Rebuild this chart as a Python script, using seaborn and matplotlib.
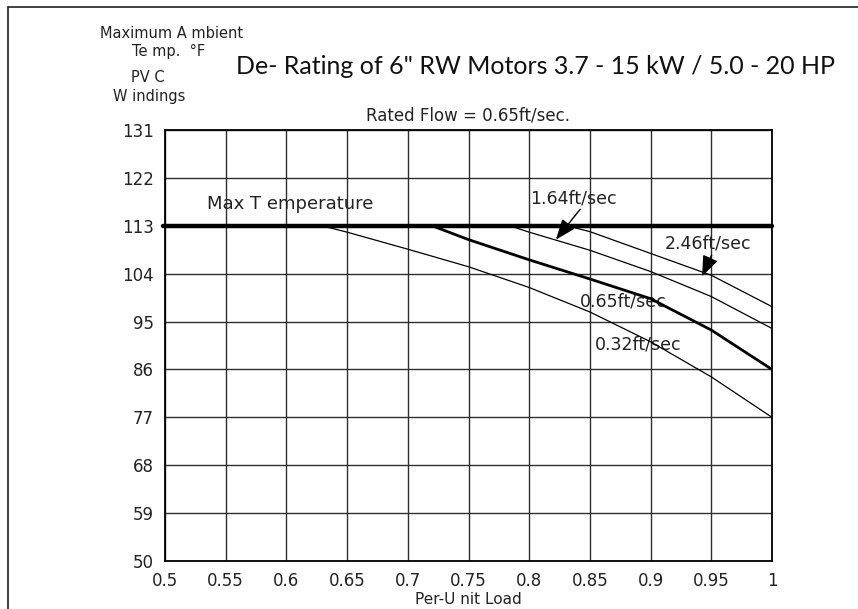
import matplotlib
matplotlib.use("Agg")
import matplotlib.pyplot as plt
import seaborn as sns
import pandas as pd
from matplotlib.lines import Line2D

# ---------------- data ----------------
x_ticks = [0.5, 0.55, 0.6, 0.65, 0.7, 0.75, 0.8, 0.85, 0.9, 0.95, 1.0]
x_tick_labels = ["0.5", "0.55", "0.6", "0.65", "0.7", "0.75", "0.8", "0.85", "0.9", "0.95", "1"]
y_ticks = [50, 59, 68, 77, 86, 95, 104, 113, 122, 131]
y_tick_labels = ["50", "59", "68", "77", "86", "95", "104", "113", "122", "131"]
max_temp = 113

load_032 = [0.629, 0.65, 0.70, 0.75, 0.80, 0.85, 0.90, 0.95, 1.00]
temp_032 = [113, 111.8, 108.6, 105.3, 101.4, 96.8, 91.2, 84.6, 77]
load_065 = [0.72, 0.75, 0.80, 0.85, 0.90, 0.95, 1.00]
temp_065 = [113, 110.4, 106.6, 103.0, 99.3, 93.4, 86]
load_164 = [0.784, 0.80, 0.85, 0.90, 0.95, 1.00]
temp_164 = [113, 111.8, 108.4, 104.4, 99.7, 93.7]
load_246 = [0.831, 0.85, 0.90, 0.95, 1.00]
temp_246 = [113, 111.9, 107.8, 103.7, 97.8]

series_names = ["0.32ft/sec", "0.65ft/sec", "1.64ft/sec", "2.46ft/sec"]

frames = []
for name, xs, ys in zip(series_names,
                        [load_032, load_065, load_164, load_246],
                        [temp_032, temp_065, temp_164, temp_246]):
    frames.append(pd.DataFrame({"load": xs, "temp": ys, "flow": name}))
df = pd.concat(frames, ignore_index=True)

# ---------------- style ----------------
sns.set_theme(style="white")
plt.rcParams["font.family"] = ["DejaVu Sans"]

fig = plt.figure(figsize=(8.58, 6.09), dpi=100)
ax = fig.add_axes([165 / 858, 1 - 561 / 609, (772 - 165) / 858, (561 - 130) / 609])

widths = {"0.32ft/sec": 0.9, "0.65ft/sec": 2.0, "1.64ft/sec": 0.9, "2.46ft/sec": 0.9}
for name in series_names:
    sub = df[df["flow"] == name]
    sns.lineplot(data=sub, x="load", y="temp", ax=ax, color="black",
                 linewidth=widths[name], legend=False, sort=False, zorder=4)

ax.axhline(max_temp, xmin=-0.004, xmax=1.0, color="black", linewidth=3.2,
           clip_on=False, zorder=5)

ax.set_xlim(0.5, 1.0)
ax.set_ylim(50, 131)
ax.set_xticks(x_ticks)
ax.set_xticklabels(x_tick_labels)
ax.set_yticks(y_ticks)
ax.set_yticklabels(y_tick_labels)
ax.grid(True, color="#2e2e2e", linewidth=1.0)
ax.set_axisbelow(True)
for s in ax.spines.values():
    s.set_color("black")
    s.set_linewidth(1.3)
ax.tick_params(axis="both", length=0, labelsize=12, colors="#222222")
ax.tick_params(axis="y", pad=8)
ax.tick_params(axis="x", pad=8)
ax.set_xlabel("Per-U nit Load", fontsize=11, color="#222222", labelpad=1)
ax.set_ylabel("")

# labels inside plot
ax.text(0.535, 117.0, "Max T emperature", fontsize=13, color="#222222",
        va="center", ha="left")
ax.text(0.8005, 118.2, "1.64ft/sec", fontsize=12.5, color="#222222", va="center", ha="left")
ax.text(0.912, 109.6, "2.46ft/sec", fontsize=12.5, color="#222222", va="center", ha="left")
ax.text(0.842, 98.7, "0.65ft/sec", fontsize=12.5, color="#222222", va="center", ha="left")
ax.text(0.854, 90.6, "0.32ft/sec", fontsize=12.5, color="#222222", va="center", ha="left")

arrow_kw = dict(arrowstyle="-|>,head_length=0.9,head_width=0.35", color="black",
                lw=1.0, shrinkA=0, shrinkB=0, mutation_scale=14)
ax.annotate("", xy=(0.822, 110.4), xytext=(0.842, 116.1), arrowprops=arrow_kw, zorder=6)
ax.annotate("", xy=(0.9424, 103.5), xytext=(0.9503, 107.5), arrowprops=arrow_kw, zorder=6)

# titles
fig.text(535 / 858, 1 - 66 / 609, 'De- Rating of 6" RW Motors 3.7 - 15 kW / 5.0 - 20 HP',
         fontsize=18, family=["Lato", "DejaVu Sans"], color="#111111",
         ha="center", va="center")
fig.text(468 / 858, 1 - 115 / 609, "Rated Flow = 0.65ft/sec.", fontsize=12,
         color="#222222", ha="center", va="center")

# y-axis description block
fig.text(172 / 858, 1 - 33 / 609, "Maximum A mbient", fontsize=10.5, color="#222222",
         ha="center", va="center")
fig.text(169 / 858, 1 - 51 / 609, "Te mp.  °F", fontsize=10.5, color="#222222",
         ha="center", va="center")
fig.text(148 / 858, 1 - 77 / 609, "PV C", fontsize=10.5, color="#222222",
         ha="center", va="center")
fig.text(149 / 858, 1 - 96 / 609, "W indings", fontsize=10.5, color="#222222",
         ha="center", va="center")

# outer frame (left and top edges)
fig.add_artist(Line2D([8 / 858, 8 / 858], [0, 1 - 7 / 609], color="#333333", linewidth=1.3))
fig.add_artist(Line2D([8 / 858, 1], [1 - 7 / 609, 1 - 7 / 609], color="#333333", linewidth=1.3))

fig.savefig("out.png", dpi=100)
